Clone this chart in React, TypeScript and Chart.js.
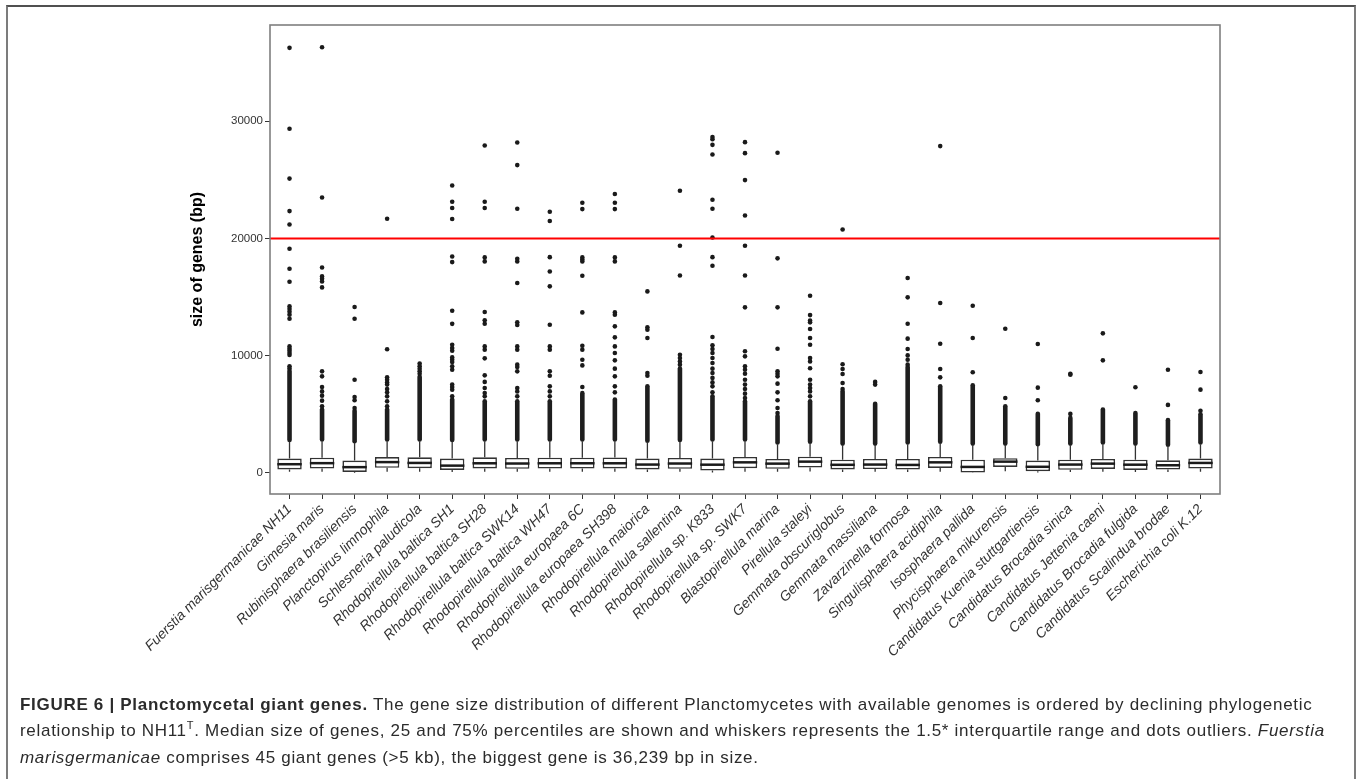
import React, { useEffect, useRef } from "react";
import { Chart, registerables } from "chart.js";
Chart.register(...registerables);

const categories = [
  "Fuerstia marisgermanicae NH11",
  "Gimesia maris",
  "Rubinisphaera brasiliensis",
  "Planctopirus limnophila",
  "Schlesneria paludicola",
  "Rhodopirellula baltica SH1",
  "Rhodopirellula baltica SH28",
  "Rhodopirellula baltica SWK14",
  "Rhodopirellula baltica WH47",
  "Rhodopirellula europaea 6C",
  "Rhodopirellula europaea SH398",
  "Rhodopirellula maiorica",
  "Rhodopirellula sallentina",
  "Rhodopirellula sp. K833",
  "Rhodopirellula sp. SWK7",
  "Blastopirellula marina",
  "Pirellula staleyi",
  "Gemmata obscuriglobus",
  "Gemmata massiliana",
  "Zavarzinella formosa",
  "Singulisphaera acidiphila",
  "Isosphaera pallida",
  "Phycisphaera mikurensis",
  "Candidatus Kuenia stuttgartiensis",
  "Candidatus Brocadia sinica",
  "Candidatus Jettenia caeni",
  "Candidatus Brocadia fulgida",
  "Candidatus Scalindua brodae",
  "Escherichia coli K.12",
];

const q1 = [300, 370, 80, 430, 400, 250, 380, 350, 370, 370, 380, 300, 350, 200, 400, 350, 450, 300, 330, 280, 420, 30, 510, 150, 260, 340, 250, 280, 370];
const median = [740, 830, 490, 920, 850, 620, 820, 800, 820, 820, 820, 710, 800, 700, 900, 790, 960, 690, 710, 680, 900, 510, 960, 520, 710, 790, 700, 650, 850];
const q3 = [1220, 1300, 1050, 1350, 1330, 1220, 1330, 1280, 1300, 1300, 1320, 1220, 1280, 1220, 1360, 1190, 1380, 1130, 1190, 1190, 1360, 1130, 1250, 1050, 1130, 1190, 1130, 1070, 1220];
const whiskerLow = [90, 90, 20, 100, 100, 80, 90, 90, 90, 90, 90, 80, 90, 40, 100, 90, 110, 80, 90, 80, 100, 15, 130, 40, 70, 90, 70, 80, 90];
const whiskerHigh = [2650, 2700, 2550, 2700, 2700, 2650, 2700, 2700, 2700, 2700, 2700, 2600, 2650, 2700, 2700, 2450, 2500, 2350, 2350, 2450, 2500, 2350, 2350, 2300, 2350, 2450, 2350, 2250, 2450];
// top of the near-continuous run of outlier dots above each whisker
const denseTop = [8700, 5400, 5300, 5400, 8200, 6250, 6100, 6100, 6100, 6800, 6250, 7380, 8900, 6530, 6100, 4850, 6100, 6950, 5900, 9030, 7380, 7470, 5680, 5050, 4690, 5400, 5100, 4500, 5000];
// individually visible outliers
const outliers: number[][] = [
  [36250, 29350, 25100, 22330, 21190, 19120, 17410, 16300, 14200, 13980, 13750, 13490, 13150, 10790, 10590, 10420, 10220, 10050, 9090, 8900],
  [36300, 23490, 17520, 16760, 16560, 16330, 15820, 8660, 8235, 7320, 6950, 6590, 6160, 5680],
  [14150, 13150, 7950, 6470, 6190, 5540],
  [21670, 10540, 8150, 7950, 7720, 7530, 7160, 6870, 6530, 6100, 5680],
  [9320, 9090, 8880, 8660, 8450],
  [24510, 23120, 22590, 21650, 18460, 17980, 13830, 12710, 10930, 10650, 10420, 9850, 9650, 9460, 9090, 8800, 7530, 7320, 7100, 6530],
  [27920, 23120, 22590, 18380, 18040, 13720, 13010, 12720, 10790, 10510, 9770, 8320, 7760, 7240, 6820, 6530],
  [28180, 26250, 22530, 18260, 18040, 16190, 12850, 12610, 10790, 10510, 9230, 9030, 8660, 7240, 6950, 6530],
  [22270, 21480, 18400, 17180, 15910, 12640, 10790, 10510, 8660, 8290, 7380, 6950, 6530],
  [23040, 22500, 18380, 18200, 18040, 16810, 13690, 10850, 10510, 9650, 9170, 7320],
  [23780, 23040, 22500, 18380, 18040, 13690, 13490, 12500, 11560, 10790, 10220, 9600, 8890, 8235, 7380, 6870],
  [15480, 12420, 12210, 11500, 8520, 8290],
  [24060, 19370, 16840, 10080, 9800, 9510, 9230],
  [28640, 28450, 27980, 27150, 23290, 22530, 20080, 18400, 17670, 11590, 10880, 10570, 10220, 9800, 9370, 8890, 8520, 8100, 7720, 7380, 6870],
  [28210, 27270, 24970, 21950, 19370, 16840, 14120, 10370, 9940, 9090, 8800, 8460, 7950, 7530, 7160, 6760, 6390],
  [27300, 18300, 14120, 10590, 8660, 8460, 8235, 7610, 6870, 6190, 5540, 5110],
  [15110, 13460, 13000, 12840, 12270, 11500, 10930, 9800, 9510, 8920, 7950, 7530, 7240, 6950, 6530],
  [20760, 9260, 8860, 8440, 7670, 7160],
  [7760, 7530],
  [16620, 14970, 12720, 11450, 10570, 10020, 9650, 9230],
  [27870, 14490, 11020, 8860, 8150],
  [14260, 11500, 8580],
  [12300, 6390],
  [10990, 7270, 6190],
  [8450, 8380, 5030],
  [11900, 9600],
  [7300],
  [8800, 5800],
  [8600, 7100, 5300],
];

const thresholdValue = 20000;
const yTickValues = [0, 10000, 20000, 30000];

const FONT = '"Liberation Sans", Arial, Helvetica, sans-serif';

const boxPlugin = {
  id: "boxExtras",
  beforeDatasetsDraw(chart: any) {
    const { ctx, scales } = chart;
    const x = scales.x;
    const y = scales.y;
    ctx.save();
    ctx.strokeStyle = "#1e1e1e";
    ctx.lineWidth = 4.6;
    ctx.lineCap = "round";
    categories.forEach((_, i) => {
      const px = x.getPixelForValue(i);
      ctx.beginPath();
      ctx.moveTo(px, y.getPixelForValue(whiskerHigh[i] + 150));
      ctx.lineTo(px, y.getPixelForValue(denseTop[i]));
      ctx.stroke();
    });
    ctx.strokeStyle = "#333333";
    ctx.lineWidth = 1.3;
    ctx.lineCap = "butt";
    categories.forEach((_, i) => {
      const px = x.getPixelForValue(i);
      ctx.beginPath();
      ctx.moveTo(px, y.getPixelForValue(q3[i]));
      ctx.lineTo(px, y.getPixelForValue(whiskerHigh[i]));
      ctx.moveTo(px, y.getPixelForValue(q1[i]));
      ctx.lineTo(px, y.getPixelForValue(whiskerLow[i]));
      ctx.stroke();
    });
    ctx.restore();
  },
  afterDatasetsDraw(chart: any) {
    const { ctx, scales } = chart;
    const y = scales.y;
    const meta = chart.getDatasetMeta(1);
    ctx.save();
    ctx.strokeStyle = "#1a1a1a";
    ctx.lineWidth = 2.5;
    meta.data.forEach((el: any, i: number) => {
      const py = y.getPixelForValue(median[i]);
      ctx.beginPath();
      ctx.moveTo(el.x - el.width / 2, py);
      ctx.lineTo(el.x + el.width / 2, py);
      ctx.stroke();
    });
    ctx.restore();
  },
  afterDraw(chart: any) {
    const { ctx, chartArea } = chart;
    ctx.save();
    ctx.strokeStyle = "#7f7f7f";
    ctx.lineWidth = 1.6;
    ctx.strokeRect(chartArea.left, chartArea.top, chartArea.right - chartArea.left, chartArea.bottom - chartArea.top);
    ctx.restore();
  },
};

function BoxChart() {
  const ref = useRef<HTMLCanvasElement | null>(null);
  useEffect(() => {
    if (!ref.current) return;
    const lastIndex = categories.length - 1;
    const chart = new Chart(ref.current, {
      type: "bar",
      data: {
        datasets: [
          {
            type: "line",
            data: [
              { x: -0.6, y: thresholdValue },
              { x: lastIndex + 0.6, y: thresholdValue },
            ],
            borderColor: "#ff0000",
            borderWidth: 2,
            pointRadius: 0,
            fill: false,
          } as any,
          {
            type: "bar",
            data: categories.map((_, i) => ({ x: i, y: [q1[i], q3[i]] })),
            backgroundColor: "#ffffff",
            borderColor: "#333333",
            borderWidth: 1.6,
            borderSkipped: false,
            categoryPercentage: 1,
            barPercentage: 0.75,
          } as any,
          {
            type: "scatter",
            data: outliers.flatMap((vals, i) => vals.map((v) => ({ x: i, y: v }))),
            backgroundColor: "#1a1a1a",
            borderWidth: 0,
            pointRadius: 2.3,
          } as any,
        ],
      },
      options: {
        responsive: false,
        animation: false,
        events: [],
        layout: { padding: { top: 25, right: 142, bottom: 16, left: 0 } },
        plugins: { legend: { display: false }, tooltip: { enabled: false } },
        scales: {
          x: {
            type: "linear",
            offset: false,
            min: -0.6,
            max: lastIndex + 0.6,
            afterBuildTicks: (scale: any) => {
              scale.ticks = categories.map((_, i) => ({ value: i }));
            },
            afterFit: (scale: any) => {
              scale.height = 210;
            },
            ticks: {
              autoSkip: false,
              maxRotation: 45,
              minRotation: 45,
              padding: 2,
              color: "#333333",
              font: { family: FONT, size: 14, style: "italic" },
              callback: (v: any) => categories[Math.round(Number(v))],
            },
            grid: { offset: false, drawOnChartArea: false, tickLength: 5, tickColor: "#333333", tickWidth: 1 },
            border: { display: false },
          },
          y: {
            type: "linear",
            min: -1800,
            max: 38200,
            afterBuildTicks: (scale: any) => {
              scale.ticks = yTickValues.map((v) => ({ value: v }));
            },
            afterFit: (scale: any) => {
              scale.width = 270;
            },
            ticks: {
              padding: 2,
              color: "#333333",
              font: { family: FONT, size: 11.5 },
              callback: (v: any) => String(v),
            },
            grid: { drawOnChartArea: false, tickLength: 5, tickColor: "#333333", tickWidth: 1 },
            border: { display: false },
            title: {
              display: true,
              text: "size of genes (bp)",
              color: "#000000",
              font: { family: FONT, size: 16, weight: "bold" },
              padding: { top: 188, bottom: 0 },
            },
          },
        },
      },
      plugins: [boxPlugin],
    } as any);
    return () => chart.destroy();
  }, []);
  return <canvas ref={ref} width={1362} height={720} style={{ position: "absolute", left: 0, top: 0, width: 1362, height: 720 }} />;
}

export default function App() {
  return (
    <div style={{ position: "fixed", left: 0, top: 0, width: 1362, height: 779, overflow: "hidden", background: "#ffffff" }}>
      <div
        style={{
          position: "absolute",
          left: 6,
          top: 5,
          width: 1350,
          height: 820,
          boxSizing: "border-box",
          border: "2px solid #7c7c7c",
          borderTop: "2px solid #505050",
        }}
      />
      <BoxChart />
      <div
        style={{
          position: "absolute",
          left: 20,
          top: 692,
          font: `17px ${FONT}`,
          letterSpacing: "0.7px",
          lineHeight: "26px",
          color: "#2b2b2b",
          whiteSpace: "nowrap",
        }}
      >
        <div>
          <b>FIGURE 6 | Planctomycetal giant genes.</b> The gene size distribution of different Planctomycetes with available genomes is ordered by declining phylogenetic
        </div>
        <div>
          relationship to NH11<span style={{ fontSize: 11, position: "relative", top: -7 }}>T</span>. Median size of genes, 25 and 75% percentiles are shown and whiskers represents the 1.5* interquartile range and dots outliers. <i>Fuerstia</i>
        </div>
        <div>
          <i>marisgermanicae</i> comprises 45 giant genes (&gt;5 kb), the biggest gene is 36,239 bp in size.
        </div>
      </div>
    </div>
  );
}
